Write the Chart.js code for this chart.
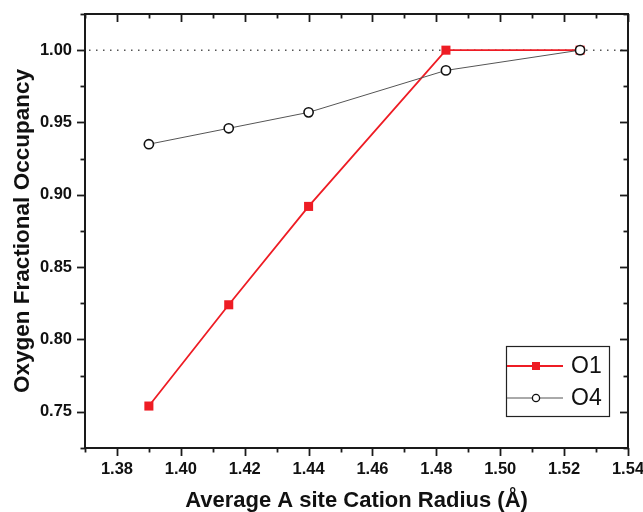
<!DOCTYPE html>
<html><head><meta charset="utf-8">
<script src="https://cdn.jsdelivr.net/npm/chart.js@4/dist/chart.umd.min.js"></script>
<style>html,body{margin:0;padding:0;background:#fff}#c{display:block}</style>
</head><body>
<canvas id="c" width="643" height="512"></canvas>
<script>
const radius = [1.39, 1.415, 1.44, 1.483, 1.525];
const o1 = [0.754, 0.824, 0.892, 1.0, 1.0];
const o4 = [0.935, 0.946, 0.957, 0.986, 1.0];
const seriesNames = ['O1', 'O4'];
const xTickLabels = [1.38, 1.40, 1.42, 1.44, 1.46, 1.48, 1.50, 1.52, 1.54];
const yTickLabels = [0.75, 0.80, 0.85, 0.90, 0.95, 1.00];
const xMinorTicks = [1.37, 1.39, 1.41, 1.43, 1.45, 1.47, 1.49, 1.51, 1.53];
const yMinorTicks = [0.725, 0.775, 0.825, 0.875, 0.925, 0.975, 1.025];
const refLine = 1.00;

const RED = '#ee1c24';
const FONT = '"Liberation Sans", Arial, sans-serif';

const zeroPad = s => { s.paddingLeft = 0; s.paddingRight = 0; s.paddingTop = 0; s.paddingBottom = 0; };

const framePlugin = {
  id: 'frame',
  beforeDatasetsDraw(chart) {
    const {ctx, chartArea: a, scales: {y}} = chart;
    const py = y.getPixelForValue(refLine);
    ctx.save();
    ctx.strokeStyle = '#555';
    ctx.lineWidth = 1.5;
    ctx.setLineDash([1.5, 5.5]);
    ctx.beginPath();
    ctx.moveTo(a.left + 4, py);
    ctx.lineTo(a.right, py);
    ctx.stroke();
    ctx.restore();
  },
  afterDatasetsDraw(chart) {
    const {ctx, chartArea: a, scales: {x, y}} = chart;
    ctx.save();
    ctx.strokeStyle = '#1a1a1a';
    ctx.lineWidth = 2;
    ctx.strokeRect(a.left, a.top, a.right - a.left, a.bottom - a.top);
    ctx.lineWidth = 1.8;
    const tick = (x1, y1, x2, y2) => { ctx.beginPath(); ctx.moveTo(x1, y1); ctx.lineTo(x2, y2); ctx.stroke(); };
    const MAJ = 8, MIN = 4.5;
    xTickLabels.forEach(v => {
      const px = Math.round(x.getPixelForValue(v)) + 0.5;
      tick(px, a.bottom, px, a.bottom + MAJ);
      tick(px, a.top, px, a.top + MAJ);
    });
    xMinorTicks.forEach(v => {
      const px = Math.round(x.getPixelForValue(v)) + 0.5;
      tick(px, a.bottom, px, a.bottom + MIN);
      tick(px, a.top, px, a.top + MIN);
    });
    yTickLabels.forEach(v => {
      const py = Math.round(y.getPixelForValue(v)) + 0.5;
      tick(a.left - MAJ, py, a.left, py);
      tick(a.right - MAJ, py, a.right, py);
    });
    yMinorTicks.forEach(v => {
      const py = Math.round(y.getPixelForValue(v)) + 0.5;
      tick(a.left - MIN, py, a.left, py);
      tick(a.right - MIN, py, a.right, py);
    });
    ctx.restore();
  },
  afterDraw(chart) {
    const {ctx, chartArea: a} = chart;
    const bw = 103, bh = 70;
    const bx = a.right - 19 - bw, by = a.bottom - 32 - bh;
    ctx.save();
    ctx.strokeStyle = '#222';
    ctx.lineWidth = 1.2;
    ctx.strokeRect(bx + 0.5, by + 0.5, bw, bh);
    const rows = [by + 20, by + 52];
    chart.data.datasets.forEach((ds, i) => {
      const ry = rows[i];
      ctx.strokeStyle = ds.borderColor;
      ctx.lineWidth = ds.borderWidth;
      ctx.beginPath();
      ctx.moveTo(bx + 1, ry);
      ctx.lineTo(bx + 57, ry);
      ctx.stroke();
      const mx = bx + 30;
      if (ds.pointStyle === 'rect') {
        ctx.fillStyle = ds.pointBackgroundColor;
        ctx.fillRect(mx - 4, ry - 4, 8, 8);
      } else {
        ctx.fillStyle = '#fff';
        ctx.strokeStyle = '#111';
        ctx.lineWidth = 1.3;
        ctx.beginPath();
        ctx.arc(mx, ry, 3.6, 0, Math.PI * 2);
        ctx.fill();
        ctx.stroke();
      }
      ctx.fillStyle = '#111';
      ctx.font = '23px ' + FONT;
      ctx.textBaseline = 'middle';
      ctx.textAlign = 'left';
      ctx.fillText(ds.label, bx + 65, ry + 1);
    });
    ctx.restore();
  }
};

new Chart(document.getElementById('c'), {
  type: 'scatter',
  data: {
    datasets: [
      {
        label: seriesNames[0],
        data: radius.map((r, i) => ({x: r, y: o1[i]})),
        showLine: true,
        borderColor: RED,
        borderWidth: 1.8,
        pointStyle: 'rect',
        pointRadius: 6.4,
        pointBackgroundColor: RED,
        pointBorderColor: RED,
        pointBorderWidth: 0,
        order: 2
      },
      {
        label: seriesNames[1],
        data: radius.map((r, i) => ({x: r, y: o4[i]})),
        showLine: true,
        borderColor: '#555',
        borderWidth: 1,
        pointStyle: 'circle',
        pointRadius: 4.6,
        pointBackgroundColor: '#fff',
        pointBorderColor: '#111',
        pointBorderWidth: 1.6,
        order: 1
      }
    ]
  },
  options: {
    responsive: false,
    animation: false,
    devicePixelRatio: 1,
    layout: {padding: {left: 0, top: 14, right: 15, bottom: 0}},
    plugins: {legend: {display: false}, tooltip: {enabled: false}},
    scales: {
      x: {
        type: 'linear', min: 1.37, max: 1.54,
        afterBuildTicks: s => { s.ticks = xTickLabels.map(v => ({value: v})); },
        afterFit: s => { s.height = 64; zeroPad(s); },
        grid: {display: false, drawTicks: false},
        border: {display: false},
        ticks: {
          padding: 12, color: '#111',
          font: {family: FONT, size: 16.5, weight: 'bold'},
          callback: v => Number(v).toFixed(2)
        },
        title: {
          display: true, text: 'Average A site Cation Radius (Å)', color: '#111',
          font: {family: FONT, size: 22, weight: 'bold'},
          padding: {top: 0, bottom: -2}
        }
      },
      y: {
        type: 'linear', min: 0.725, max: 1.025,
        afterBuildTicks: s => { s.ticks = yTickLabels.map(v => ({value: v})); },
        afterFit: s => { s.width = 85; zeroPad(s); },
        grid: {display: false, drawTicks: false},
        border: {display: false},
        ticks: {
          padding: 13, color: '#111',
          font: {family: FONT, size: 16.5, weight: 'bold'},
          callback: v => Number(v).toFixed(2)
        },
        title: {
          display: true, text: 'Oxygen Fractional Occupancy', color: '#111',
          font: {family: FONT, size: 22.5, weight: 'bold'},
          padding: {top: 9, bottom: 0}
        }
      }
    }
  },
  plugins: [framePlugin]
});
</script>
</body></html>
